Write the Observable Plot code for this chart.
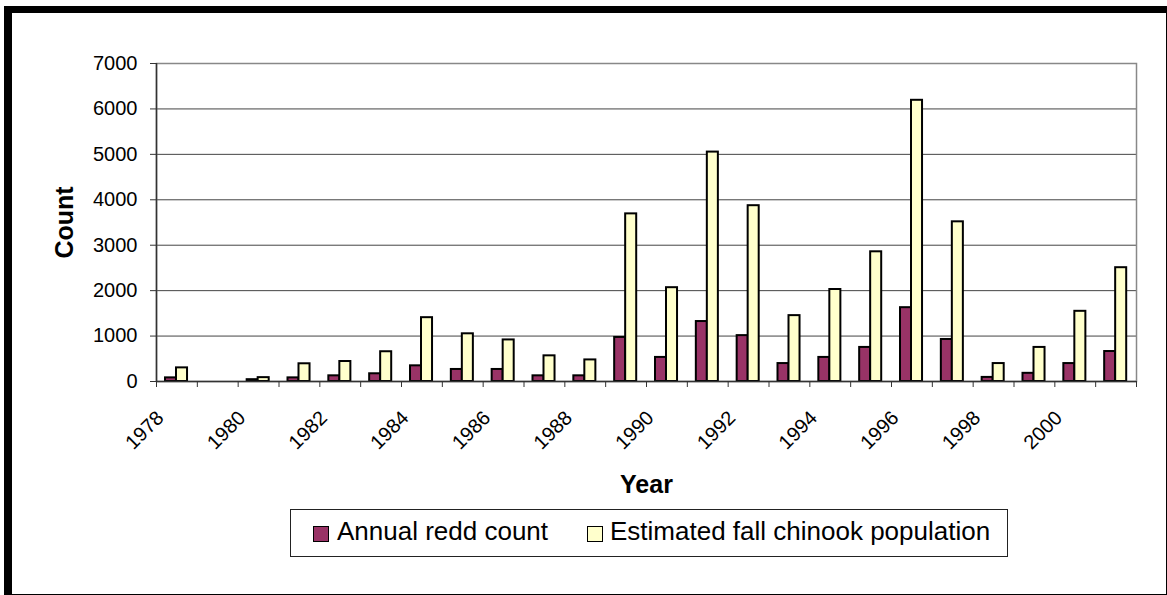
<!DOCTYPE html>
<html>
<head>
<meta charset="utf-8">
<script src="https://cdn.jsdelivr.net/npm/d3@7"></script>
<script src="https://cdn.jsdelivr.net/npm/@observablehq/plot@0.6"></script>
<style>
  html, body { margin: 0; padding: 0; background: #fff; }
  body { width: 1167px; height: 595px; position: relative; overflow: hidden; font-family: "Liberation Sans", Arial, sans-serif; }
  #frame { position: absolute; left: 4px; top: 6px; width: 1154px; height: 581px; border-left: 8px solid #000; border-top: 7px solid #000; border-right: 1px solid #000; border-bottom: 1px solid #000; }
  #chart { position: absolute; left: 0; top: 0; }
  #legend { position: absolute; left: 290px; top: 509px; width: 716px; height: 46px; border: 1px solid #222; background: #fff; }
  .sw { position: absolute; top: 16px; width: 14px; height: 14px; border: 1.5px solid #000; }
  .lt { position: absolute; top: 8px; font-size: 26px; line-height: 26px; color: #000; white-space: nowrap; }
</style>
</head>
<body>
<div id="frame"></div>
<div id="chart"></div>
<div id="legend"></div>
<script>
const years = [1978, 1979, 1980, 1981, 1982, 1983, 1984, 1985, 1986, 1987, 1988, 1989,
               1990, 1991, 1992, 1993, 1994, 1995, 1996, 1997, 1998, 1999, 2000, 2001];
const reddCount = [80, null, 40, 80, 125, 170, 345, 265, 265, 125, 125, 970,
                   530, 1320, 1010, 395, 530, 750, 1625, 925, 90, 180, 395, 660];
const chinookPopulation = [300, null, 85, 390, 440, 655, 1405, 1050, 915, 565, 475, 3690,
                           2065, 5050, 3870, 1450, 2025, 2855, 6190, 3515, 395, 750, 1545, 2505];
const seriesNames = ["Annual redd count", "Estimated fall chinook population"];
const seriesColors = ["#993366", "#FFFFCC"];
const yTicks = [0, 1000, 2000, 3000, 4000, 5000, 6000, 7000];
const xLabelYears = [1978, 1980, 1982, 1984, 1986, 1988, 1990, 1992, 1994, 1996, 1998, 2000];
const xBoundaries = [...years, 2002];

const redd = years.map((y, i) => ({year: y, value: reddCount[i]}));
const pop = years.map((y, i) => ({year: y, value: chinookPopulation[i]}));

const chart = Plot.plot({
  width: 1167,
  height: 510,
  marginLeft: 156,
  marginRight: 31,
  marginTop: 63,
  marginBottom: 129,
  style: {fontFamily: "Liberation Sans, Arial, sans-serif", fontSize: "20px", color: "#000", background: "transparent"},
  x: {type: "linear", domain: [1978, 2002], axis: null},
  y: {domain: [0, 7000], axis: null},
  marks: [
    Plot.gridY(yTicks, {stroke: "#444", strokeOpacity: 1, strokeWidth: 1}),
    Plot.frame({stroke: "#888", strokeWidth: 1.5}),
    Plot.rectY(redd, {x: "year", interval: 1, y: "value", fill: seriesColors[0], stroke: "#000", strokeWidth: 2, insetLeft: 9, insetRight: 20.8}),
    Plot.rectY(pop, {x: "year", interval: 1, y: "value", fill: seriesColors[1], stroke: "#000", strokeWidth: 2, insetLeft: 20, insetRight: 9.8}),
    Plot.ruleX([1978], {stroke: "#333", strokeWidth: 1.5}),
    Plot.ruleY([0], {stroke: "#333", strokeWidth: 1.5}),
    Plot.axisY(yTicks, {tickSize: 6, tickPadding: 13, fontSize: 20, stroke: "#333", tickFormat: d3.format("d"), label: null}),
    Plot.axisX(xBoundaries, {tickSize: 6, tickFormat: () => "", stroke: "#333", label: null}),
    Plot.text(xLabelYears, {x: d => d + 0.5, frameAnchor: "bottom", text: d => String(d), rotate: -45, textAnchor: "end", lineAnchor: "middle", dx: -16.5, dy: 33, fontSize: 20, fill: "#000"}),
    Plot.text(["Count"], {frameAnchor: "left", text: d => d, rotate: -90, textAnchor: "middle", lineAnchor: "middle", dx: -92, fontSize: 25, fontWeight: "bold", fill: "#000"}),
    Plot.text(["Year"], {frameAnchor: "bottom", text: d => d, textAnchor: "middle", lineAnchor: "middle", dy: 103, fontSize: 25, fontWeight: "bold", fill: "#000"})
  ]
});
document.getElementById("chart").appendChild(chart);

const legend = document.getElementById("legend");
const swLeft = [22, 296];
const txtLeft = [46, 319];
seriesNames.forEach((name, i) => {
  const sw = document.createElement("div");
  sw.className = "sw";
  sw.style.left = swLeft[i] + "px";
  sw.style.background = seriesColors[i];
  legend.appendChild(sw);
  const t = document.createElement("div");
  t.className = "lt";
  t.style.left = txtLeft[i] + "px";
  t.textContent = name;
  legend.appendChild(t);
});
</script>
</body>
</html>
